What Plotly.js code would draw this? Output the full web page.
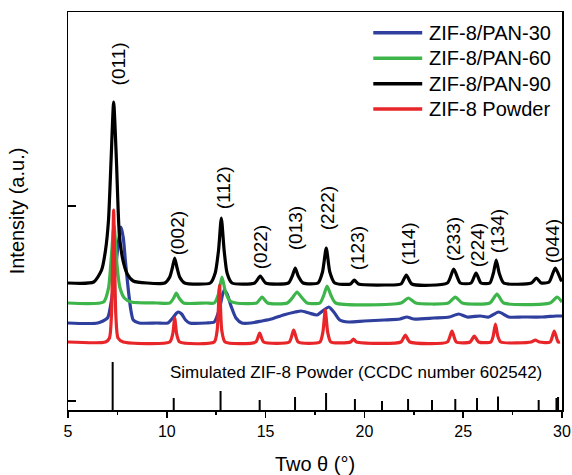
<!DOCTYPE html>
<html>
<head>
<meta charset="utf-8">
<script src="https://cdn.plot.ly/plotly-3.0.1.min.js"></script>
<style>
html,body{margin:0;padding:0;background:#fff;}
#chart{width:572px;height:475px;}
</style>
</head>
<body>
<div id="chart"></div>
<script>
// ---------- data (arbitrary intensity units, offsets included) ----------
const seriesNames  = ["ZIF-8/PAN-30", "ZIF-8/PAN-60", "ZIF-8/PAN-90", "ZIF-8 Powder"];
const seriesColors = ["#2f3f9e", "#3db54a", "#000000", "#e8262a"];

const pan30X = [5, 6.5, 7.0, 7.2, 7.4, 7.55, 7.68, 7.8, 7.9, 8.0, 8.07, 8.18, 8.3, 8.6, 9.5, 10.05, 10.3, 10.5, 10.6, 10.75, 10.95, 11.15, 12.0, 12.4, 12.65, 12.9, 13.05, 13.25, 13.5, 13.8, 14.25, 14.8, 15.3, 15.9, 16.5, 16.8, 17.2, 17.6, 17.95, 18.2, 18.45, 18.75, 19.2, 20.0, 21.0, 21.8, 22.15, 22.5, 23.5, 24.3, 24.77, 25.2, 25.87, 26.3, 26.79, 27.3, 28.0, 29.0, 29.7, 30];
const pan30Y = [87, 87, 92, 110, 140, 168, 183, 172, 150, 130, 117, 100, 90, 87, 87, 87, 92, 97, 98, 96, 90, 87, 87, 88, 100, 120, 116, 104, 92, 87, 87, 89, 91, 95, 98, 99, 97, 95, 100, 103, 98, 90, 88, 89, 90, 91, 93, 91, 92, 93, 96, 93, 94, 93, 98, 93, 93, 93, 94, 94];

const pan60X = [5, 6.8, 7.05, 7.2, 7.33, 7.48, 7.62, 7.85, 8.2, 9.5, 10.15, 10.35, 10.48, 10.62, 10.85, 12.0, 12.4, 12.6, 12.79, 12.97, 13.2, 13.5, 14.55, 14.82, 15.1, 16.1, 16.35, 16.59, 16.85, 17.1, 17.75, 17.95, 18.11, 18.3, 18.55, 21.85, 22.22, 22.6, 24.25, 24.6, 24.95, 26.35, 26.71, 27.05, 29.4, 29.75, 30];
const pan60Y = [107, 108, 122, 155, 185, 145, 123, 112, 108, 107, 107, 112, 117, 112, 107, 107, 107, 115, 133, 118, 109, 107, 107, 113, 107, 107, 112, 118, 112, 107, 107, 115, 124, 115, 107, 107, 112, 107, 107, 113, 107, 107, 116, 107, 107, 113, 108];

const pan90X = [5, 6.3, 6.7, 6.9, 7.05, 7.18, 7.31, 7.45, 7.6, 7.8, 8.0, 8.3, 9.0, 9.9, 10.15, 10.28, 10.4, 10.52, 10.65, 10.9, 12.2, 12.45, 12.62, 12.76, 12.9, 13.05, 13.3, 14.45, 14.73, 15.0, 16.15, 16.35, 16.5, 16.65, 16.9, 17.65, 17.88, 18.07, 18.25, 18.5, 19.3, 19.49, 19.7, 21.0, 21.85, 22.12, 22.4, 24.2, 24.52, 24.85, 25.4, 25.65, 25.9, 26.35, 26.53, 26.67, 26.82, 27.05, 28.45, 28.7, 28.95, 29.35, 29.66, 29.95, 30];
const pan90Y = [127, 128, 140, 160, 190, 250, 308, 250, 175, 148, 136, 129, 127, 127, 133, 142, 152, 142, 133, 127, 127, 137, 160, 192, 160, 137, 127, 127, 134, 127, 127, 134, 142, 134, 127, 127, 138, 162, 138, 127, 126, 130, 126, 125, 126, 135, 126, 127, 141, 127, 127, 137, 127, 127, 137, 150, 137, 127, 127, 132, 127, 128, 142, 130, 129];

const powderX = [5, 6.9, 7.1, 7.2, 7.26, 7.31, 7.36, 7.42, 7.53, 7.8, 10.15, 10.3, 10.4, 10.5, 10.65, 12.4, 12.55, 12.67, 12.78, 12.95, 14.5, 14.7, 14.9, 16.2, 16.42, 16.65, 17.75, 17.9, 18.02, 18.14, 18.3, 19.3, 19.45, 19.6, 21.85, 22.07, 22.3, 24.2, 24.43, 24.65, 25.35, 25.56, 25.78, 26.4, 26.52, 26.63, 26.75, 26.9, 28.45, 28.65, 28.85, 29.4, 29.61, 29.8, 29.9];
const powderY = [68, 68, 72, 95, 150, 200, 150, 95, 72, 68, 68, 76, 92, 76, 68, 68, 80, 125, 80, 68, 68, 77, 68, 68, 80, 68, 68, 78, 100, 78, 68, 68, 71, 68, 68, 75, 68, 68, 79, 68, 68, 74, 68, 68, 74, 86, 74, 68, 68, 70, 68, 68, 79, 68, 68];

// simulated pattern sticks
const stickPos    = [7.26, 10.35, 12.72, 14.70, 16.49, 18.06, 19.52, 20.89, 22.21, 23.42, 24.60, 25.70, 26.76, 28.82, 29.72, 29.80];
const stickHeight = [48, 12, 19, 10, 13, 17, 11, 9, 11, 10, 11, 12, 13.5, 10, 12, 13];

// Miller index labels
const hklLabels = ["(011)", "(002)", "(112)", "(022)", "(013)", "(222)", "(123)", "(114)", "(233)", "(224)", "(134)", "(044)"];
const hklX      = [7.55, 10.53, 12.86, 14.73, 16.50, 18.12, 19.64, 22.22, 24.50, 25.71, 26.72, 29.51];
const hklY      = [346, 177, 222, 163, 182, 202, 162, 166, 171, 165, 179, 169];

const simLabel = "Simulated ZIF-8 Powder (CCDC number 602542)";
const xTickVals = [5, 10, 15, 20, 25, 30];
const yTickVals = [9, 204];

// ---------- build ----------
const FONT = "Liberation Sans, Arial, Helvetica, sans-serif";
const xs = [pan30X, pan60X, pan90X, powderX];
const ys = [pan30Y, pan60Y, pan90Y, powderY];

const traces = seriesNames.map((n, i) => ({
  type: "scatter", mode: "lines", name: n,
  x: xs[i], y: ys[i],
  line: {color: seriesColors[i], width: 3.2, shape: "spline", smoothing: 0.6},
  showlegend: false, hoverinfo: "skip"
}));

const sx = [], sy = [];
stickPos.forEach((p, i) => { sx.push(p, p, null); sy.push(0, stickHeight[i], null); });
traces.push({type: "scatter", mode: "lines", x: sx, y: sy,
  line: {color: "#000", width: 2}, showlegend: false, hoverinfo: "skip"});

const annotations = hklLabels.map((t, i) => ({
  x: hklX[i], y: hklY[i], xref: "x", yref: "y", text: t, showarrow: false,
  textangle: -90, font: {family: FONT, size: 19, color: "#000"},
  xanchor: "center", yanchor: "middle"
}));
annotations.push({x: 19.58, y: 38, xref: "x", yref: "y", text: simLabel, showarrow: false,
  font: {family: FONT, size: 17, color: "#000"}, xanchor: "center", yanchor: "middle"});

// custom legend (long line samples)
const shapes = [];
seriesNames.forEach((n, i) => {
  const yp = 0.948 - i * 0.064;
  shapes.push({type: "line", xref: "paper", yref: "paper", x0: 0.618, x1: 0.717, y0: yp, y1: yp,
    line: {color: seriesColors[i], width: 3.5}});
  annotations.push({xref: "paper", yref: "paper", x: 0.727, y: yp, text: n, showarrow: false,
    xanchor: "left", yanchor: "middle", font: {family: FONT, size: 20, color: "#000"}});
});

const layout = {
  width: 572, height: 475,
  margin: {l: 68, r: 10, t: 12, b: 65},
  paper_bgcolor: "#fff", plot_bgcolor: "#fff",
  font: {family: FONT, color: "#000"},
  showlegend: false,
  xaxis: {
    range: [5, 30], tickvals: xTickVals, ticks: "outside", ticklen: 6, tickwidth: 1.5,
    tickcolor: "#000", showline: true, linecolor: "#000", linewidth: 1.5, mirror: true,
    showgrid: false, zeroline: false, tickfont: {family: FONT, size: 16, color: "#000"},
    minor: {dtick: 2.5, tick0: 5, ticks: "outside", ticklen: 3, tickwidth: 1.5, tickcolor: "#000", showgrid: false},
    title: {text: "Two θ (°)", font: {family: FONT, size: 20, color: "#000"}, standoff: 18}
  },
  yaxis: {
    range: [0, 398], tickvals: yTickVals, ticks: "inside", ticklen: 8, tickwidth: 1.5,
    tickcolor: "#000", showticklabels: false, showline: true, linecolor: "#000", linewidth: 1.5,
    mirror: true, showgrid: false, zeroline: false,
    title: {text: "Intensity (a.u.)", font: {family: FONT, size: 20, color: "#000"}, standoff: 36}
  },
  shapes: shapes,
  annotations: annotations
};

Plotly.newPlot("chart", traces, layout, {staticPlot: true, displayModeBar: false});
</script>
</body>
</html>
